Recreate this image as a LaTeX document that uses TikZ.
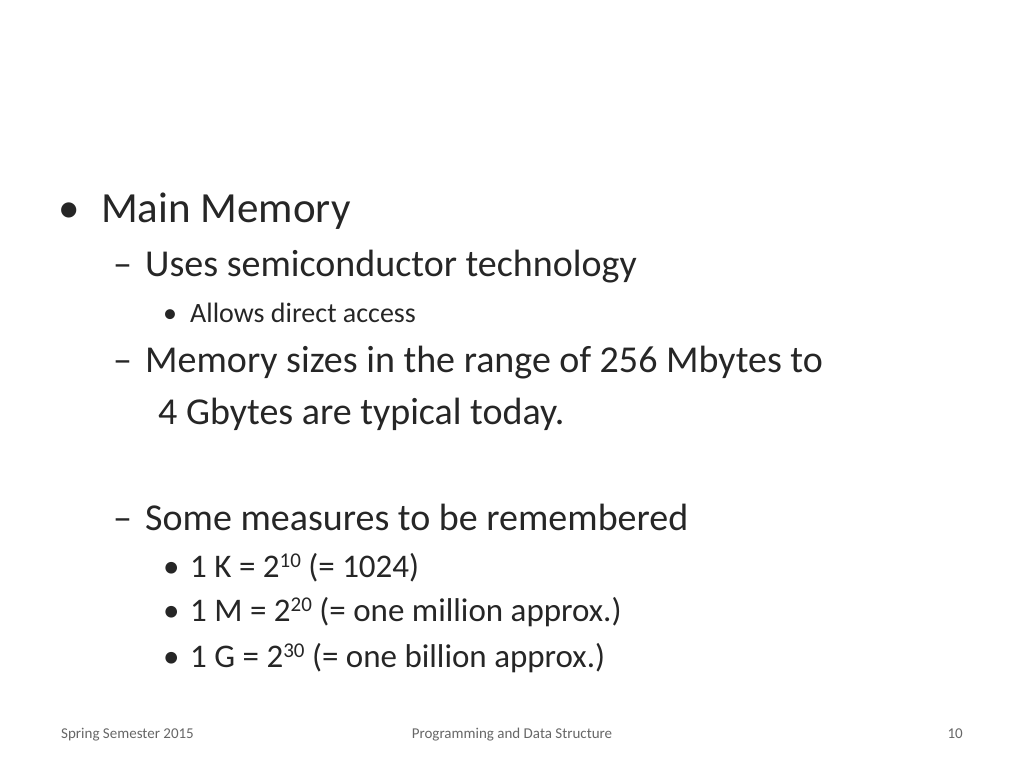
\documentclass[tikz,border=0pt]{standalone}
\usepackage{fontspec}
\setmainfont{Carlito}
\begin{document}
\begin{tikzpicture}[x=1pt,y=-1pt,
  t/.style={anchor=base west,inner sep=0pt,text=black!85},
  l1/.style={t,font=\fontsize{43}{43}\selectfont},
  l2/.style={t,font=\fontsize{38}{38}\selectfont},
  l3/.style={t,font=\fontsize{28}{28}\selectfont},
  l3b/.style={t,font=\fontsize{33}{33}\selectfont},
  ft/.style={inner sep=0pt,anchor=base,text=black!60,font=\fontsize{15}{15}\selectfont}]
\useasboundingbox (0,0) rectangle (1024,768);
\node[l1] (b1) at (58,222) {•};
\node[l1] (a) at (101,222) {Main Memory};
\node[l2] (d1) at (113,276) {–};
\node[l2] (b) at (145,276) {Uses semiconductor technology};
\node[l3] (b2) at (163,322) {•};
\node[l3] (c) at (190,322) {Allows direct access};
\node[l2] (d2) at (113,372) {–};
\node[l2] (d) at (145,372) {Memory sizes in the range of 256 Mbytes to};
\node[l2] (e) at (158,424) {4 Gbytes are typical today.};
\node[l2] (d3) at (113,530) {–};
\node[l2] (f) at (145,530) {Some measures to be remembered};
\node[l3b] (b3) at (163,577) {•};
\node[l3b] (g) at (190,577) {1 K = 2\raisebox{0.6ex}{\fontsize{21}{21}\selectfont 10} (= 1024)};
\node[l3b] (b4) at (163,621) {•};
\node[l3b] (h) at (190,621) {1 M = 2\raisebox{0.6ex}{\fontsize{21}{21}\selectfont 20} (= one million approx.)};
\node[l3b] (b5) at (163,667) {•};
\node[l3b] (i) at (190,667) {1 G = 2\raisebox{0.6ex}{\fontsize{21}{21}\selectfont 30} (= one billion approx.)};
\node[ft,anchor=base west] (f1) at (61,738) {Spring Semester 2015};
\node[ft] (f2) at (512,738) {Programming and Data Structure};
\node[ft,anchor=base east] (f3) at (963,738) {10};
\end{tikzpicture}
\end{document}
